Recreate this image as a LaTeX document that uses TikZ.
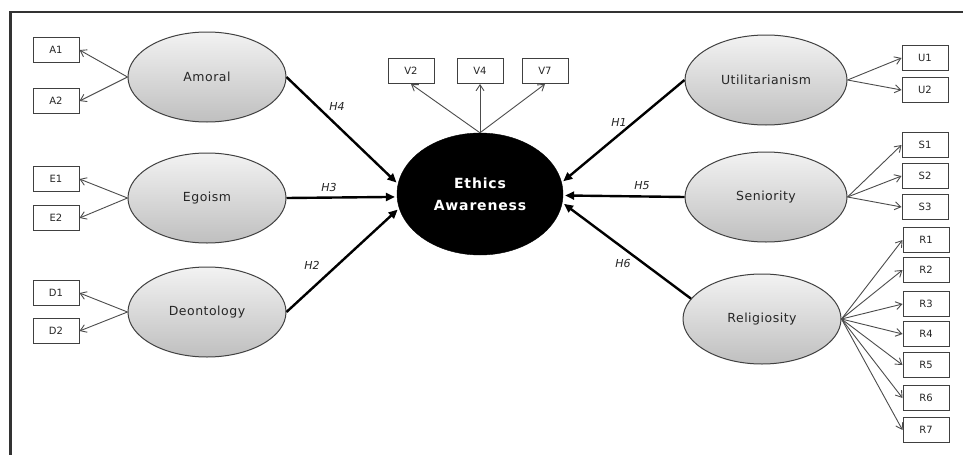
\documentclass[tikz,border=0pt]{standalone}
\usepackage{fontspec}
\usetikzlibrary{shapes.geometric,arrows.meta}
\newfontfamily\ellfam[LetterSpace=4]{DejaVu Sans}
\newfontfamily\boxfam{DejaVu Sans}
\newfontfamily\eafam[LetterSpace=6]{DejaVu Sans}
\begin{document}
\begin{tikzpicture}[x=1pt,y=-1pt,
  latent/.style={ellipse, draw=black!75, line width=1pt, top color=gray!10, bottom color=gray!50,
    minimum width=158pt, minimum height=90pt, inner sep=0pt, text=black!85,
    font=\ellfam\fontsize{12.5}{14}\selectfont},
  ind/.style={rectangle, draw=black!75, line width=1pt, fill=white, minimum width=46pt,
    minimum height=25pt, inner sep=0pt, text=black!85, font=\boxfam\fontsize{10}{11}\selectfont},
  ldarrow/.style={draw=black!70, line width=0.9pt, -{Straight Barb[length=6pt,width=8pt]}},
  hyp/.style={draw=black, line width=2.4pt, -{Triangle[length=9pt,width=8pt]}, shorten >=2pt},
  hlab/.style={font=\boxfam\itshape\fontsize{11}{12}\selectfont, text=black!85}
]
\useasboundingbox (0,0) rectangle (963,455);
\fill[white] (0,0) rectangle (963,455);
\draw[line width=2.4pt, black!80] (963,12) -- (10.5,12) -- (10.5,455);

% latent variables
\node[latent] (am) at (207,77) {Amoral};
\node[latent] (eg) at (207,198) {Egoism};
\node[latent] (de) at (207,312) {Deontology};
\node[latent, minimum width=162pt] (ut) at (766,80) {Utilitarianism};
\node[latent, minimum width=162pt] (se) at (766,197) {Seniority};
\node[latent] (re) at (762,319) {Religiosity};
\node[ellipse, fill=black, draw=black, minimum width=166pt, minimum height=122pt, inner sep=0pt,
  text=white, align=center, font=\eafam\bfseries\fontsize{14}{22}\selectfont] (ea) at (480,194)
  {\raisebox{-2pt}{Ethics}\\[0pt]\raisebox{-2pt}{Awareness}};

% indicators
\node[ind] (A1) at (56,50) {A1};
\node[ind] (A2) at (56,101) {A2};
\node[ind] (E1) at (56,179) {E1};
\node[ind] (E2) at (56,218) {E2};
\node[ind] (D1) at (56,293) {D1};
\node[ind] (D2) at (56,331) {D2};
\node[ind] (V2) at (411,71) {V2};
\node[ind] (V4) at (480,71) {V4};
\node[ind] (V7) at (545,71) {V7};
\node[ind] (U1) at (925,58) {U1};
\node[ind] (U2) at (925,90) {U2};
\node[ind] (S1) at (925,145) {S1};
\node[ind] (S2) at (925,176) {S2};
\node[ind] (S3) at (925,207) {S3};
\node[ind] (R1) at (926,240) {R1};
\node[ind] (R2) at (926,270) {R2};
\node[ind] (R3) at (926,304) {R3};
\node[ind] (R4) at (926,334) {R4};
\node[ind] (R5) at (926,365) {R5};
\node[ind] (R6) at (926,398) {R6};
\node[ind] (R7) at (926,430) {R7};

% loadings
\foreach \s/\t in {am/A1,am/A2,eg/E1,eg/E2,de/D1,de/D2}
  \draw[ldarrow] (\s.west) -- (\t.east);
\foreach \t in {U1,U2} \draw[ldarrow] (ut.east) -- (\t.west);
\foreach \t in {S1,S2,S3} \draw[ldarrow] (se.east) -- (\t.west);
\foreach \t in {R1,R2,R3,R4,R5,R6,R7} \draw[ldarrow] (re.east) -- (\t.west);
\foreach \t in {V2,V4,V7} \draw[ldarrow] (ea.north) -- (\t.south);

% hypotheses
\draw[hyp] (am.east) -- (ea.173);
\draw[hyp] (eg.east) -- (ea.182);
\draw[hyp] (de.east) -- (ea.190);
\draw[hyp] (ut.west) -- (ea.8);
\draw[hyp] (se.west) -- (ea.-1);
\draw[hyp] (re.164) -- (ea.-6);

\node[hlab] (h4) at (337,106) {H4};
\node[hlab] (h3) at (329,187) {H3};
\node[hlab] (h2) at (312,265) {H2};
\node[hlab] (h1) at (619,122) {H1};
\node[hlab] (h5) at (642,186) {H5};
\node[hlab] (h6) at (623,263) {H6};
\end{tikzpicture}
\end{document}
